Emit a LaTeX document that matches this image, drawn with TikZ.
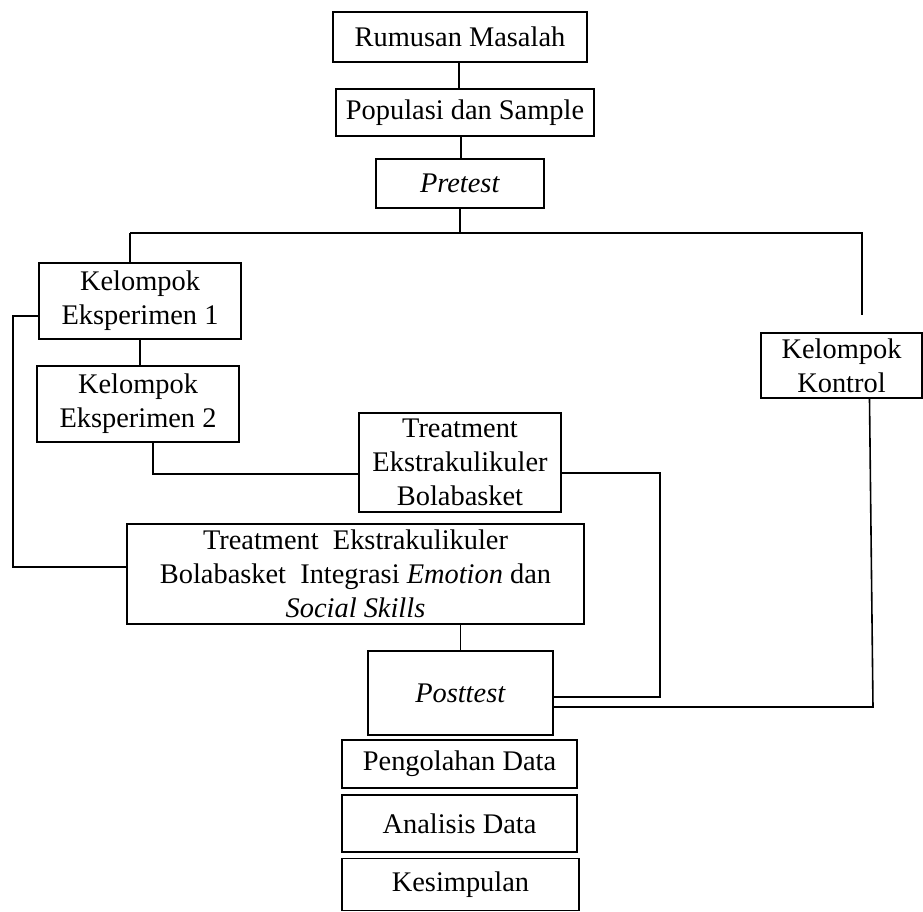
\documentclass[tikz,border=0pt]{standalone}
\usepackage{fontspec}
\setmainfont{Liberation Serif}

\begin{document}
\begin{tikzpicture}[x=0.5pt,y=-0.5pt,line width=0.8pt,
  kotak/.style={draw,line width=0.8pt,inner sep=0pt,align=center,
    font=\fontsize{14.2pt}{17pt}\selectfont},
  garis/.style={line width=0.8pt}]
\useasboundingbox (0,0) rectangle (923,912);
\node[kotak,minimum width=127pt,minimum height=25pt] (rumusan) at (460,37) {Rumusan Masalah};
\node[kotak,minimum width=129pt,minimum height=23.5pt] (populasi) at (465,112.5) {Populasi dan Sample};
\node[kotak,minimum width=84pt,minimum height=24.5pt] (pretest) at (460,183.5) {\textit{Pretest}};
\node[kotak,minimum width=101pt,minimum height=38pt] (eks1) at (140,301) {Kelompok\\Eksperimen 1};
\node[kotak,minimum width=101pt,minimum height=38pt] (eks2) at (138,404) {Kelompok\\Eksperimen 2};
\node[kotak,minimum width=80.5pt,minimum height=32.5pt] (kontrol) at (841.5,365.5) {Kelompok\\Kontrol};
\node[kotak,minimum width=101pt,minimum height=49.5pt] (treat1) at (460,462.5) {Treatment\\Ekstrakulikuler\\Bolabasket};
\node[kotak,minimum width=228.5pt,minimum height=50pt] (treat2) at (355.5,574) {Treatment\ \ Ekstrakulikuler\\Bolabasket\ \ Integrasi \textit{Emotion} dan\\\textit{Social Skills}};
\node[kotak,minimum width=92.5pt,minimum height=42pt] (posttest) at (460.5,693) {\textit{Posttest}};
\node[kotak,minimum width=117.5pt,minimum height=24pt] (olah) at (459.5,764) {Pengolahan Data};
\node[kotak,minimum width=117.5pt,minimum height=28.5pt] (analisis) at (459.5,823.5) {Analisis Data};
\node[kotak,minimum width=118.5pt,minimum height=26pt] (simpulan) at (460.5,884.5) {Kesimpulan};
\coordinate (cabang) at (460,233);
\coordinate (kiri) at (130,233);
\coordinate (kanan) at (862,233);
\coordinate (ujung) at (862,315);
\coordinate (bawah) at (873,707);
\draw[garis] (rumusan.south -| 459,0) -- (populasi.north -| 459,0);
\draw[garis] (populasi.south -| 461,0) -- (pretest.north -| 461,0);
\draw[garis] (pretest.south) -- (cabang);
\draw[garis] (kiri) -- (kanan) -- (ujung);
\draw[garis] (kiri) -- (eks1.north -| kiri);
\draw[garis] ([yshift=-7.5pt]eks1.west) -- ++(-12.5pt,0) |- ([yshift=3.5pt]treat2.west);
\draw[garis] (eks1.south) -- (eks2.north -| eks1.south);
\draw[garis] ([xshift=7.5pt]eks2.south) |- ([yshift=-5.75pt]treat1.west);
\draw[garis] ([yshift=-5.25pt]treat1.east) -- ++(49pt,0) |- ([yshift=-2pt]posttest.east);
\draw[garis] ([xshift=14pt]kontrol.south) -- (bawah) -- (posttest.east |- bawah);
\draw[garis] (posttest.north |- treat2.south) -- (posttest.north);
\end{tikzpicture}
\end{document}
